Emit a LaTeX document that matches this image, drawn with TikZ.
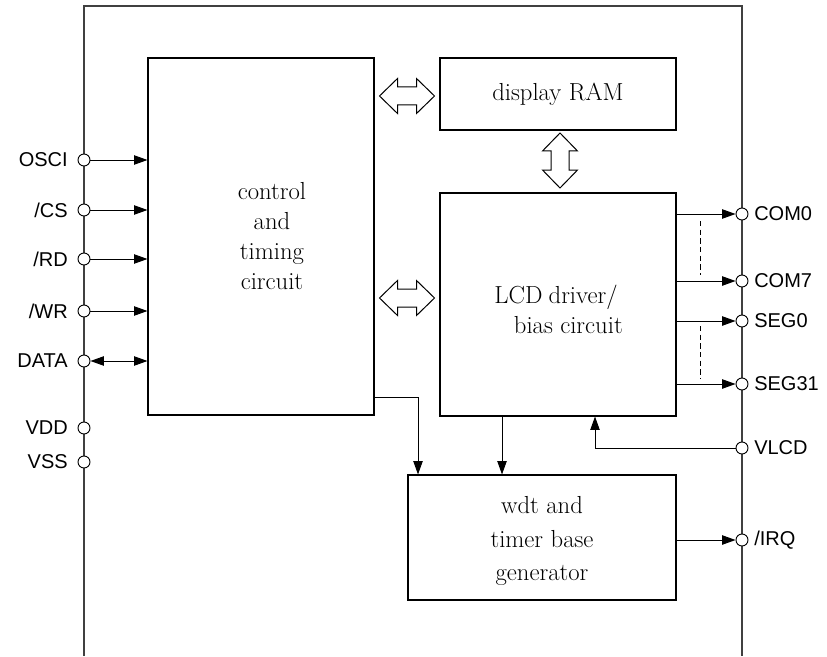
\documentclass[tikz,border=0pt]{standalone}
\usepackage{fontspec}
\newfontfamily\pinfont{Liberation Sans}
\usetikzlibrary{arrows.meta}
\begin{document}
\begin{tikzpicture}[x=0.75pt,y=-0.75pt,
  box/.style={draw,line width=0.8pt,rectangle,inner sep=0pt},
  btxt/.style={font=\fontsize{18.5}{22.5}\selectfont,align=center,inner sep=0pt},
  pin/.style={circle,draw,fill=white,line width=0.7pt,minimum size=9pt,inner sep=0pt},
  plabl/.style={font=\pinfont\fontsize{15}{16}\selectfont,inner sep=0pt,anchor=east},
  plabr/.style={font=\pinfont\fontsize{15}{16}\selectfont,inner sep=0pt,anchor=west},
  conn/.style={line width=0.75pt,-{Triangle[length=10pt,width=7pt]}},
  hollow/.style={line width=0.75pt,fill=white}
]
\useasboundingbox (0,0) rectangle (827,656);
% chip outline
\draw[line width=1.1pt,black!75] (84,656) -- (84,6) -- (742,6) -- (742,656);
% blocks
\node[box,minimum width=169.5pt,minimum height=267.75pt] (ctrl) at (261,236.5) {};
\node[btxt] (ctrltxt) at (272,236) {control\\and\\timing\\circuit};
\node[box,btxt,minimum width=177pt,minimum height=54pt] (ram) at (558,94) {display RAM};
\node[box,minimum width=177pt,minimum height=167.25pt] (lcd) at (558,304.5) {};
\node[btxt] (lcdtxt) at (556,309) {LCD\kern-1pt\ driver/\\\hspace*{1em}bias circuit};
\node[box,minimum width=201pt,minimum height=93.75pt] (wdt) at (542,537.5) {};
\node[btxt,font=\fontsize{18.5}{25}\selectfont] (wdttxt) at (542,541) {wdt and\\timer base\\generator};
% hollow double arrows
\foreach \cx/\cy/\r in {407/96/0,407/298/0,560/160.5/90}{
  \draw[hollow,rotate around={\r:(\cx,\cy)}] (\cx-27.5,\cy) -- (\cx-9.5,\cy-17.5) -- (\cx-9.5,\cy-9) -- (\cx+9.5,\cy-9) -- (\cx+9.5,\cy-17.5) -- (\cx+27.5,\cy) -- (\cx+9.5,\cy+17.5) -- (\cx+9.5,\cy+9) -- (\cx-9.5,\cy+9) -- (\cx-9.5,\cy+17.5) -- cycle;
}
% left pins
\foreach \n/\t/\y in {osci/OSCI/160,cs/{/CS}/210,rd/{/RD}/259,wr/{/WR}/311,data/DATA/361,vdd/VDD/428,vss/VSS/462}{
  \node[pin] (\n) at (84,\y) {};
  \node[plabl] (\n l) at (68,\y) {\t};
}
% right pins
\foreach \n/\t/\y in {com0/COM0/214,com7/COM7/281,seg0/SEG0/321,seg31/SEG31/384,vlcd/VLCD/448,irq/{/IRQ}/540}{
  \node[pin] (\n) at (742,\y) {};
  \node[plabr] (\n l) at (754,\y) {\t};
}
% inputs
\foreach \n in {osci,cs,rd,wr}{
  \draw[conn] (\n) -- (ctrl.west |- \n);
}
\draw[conn,{Triangle[length=10pt,width=7pt]}-{Triangle[length=10pt,width=7pt]}] (data) -- (ctrl.west |- data);
% outputs
\foreach \n in {com0,com7,seg0,seg31}{
  \draw[conn] (lcd.east |- \n) -- (\n);
}
\draw[conn] (wdt.east |- irq) -- (irq);
% dashed
\coordinate (d1) at (700,221);
\coordinate (d2) at (700,275);
\coordinate (d3) at (700,326);
\coordinate (d4) at (700,379);
\draw[line width=0.75pt,dash pattern=on 4pt off 2.5pt] (d1) -- (d2);
\draw[line width=0.75pt,dash pattern=on 4pt off 2.5pt] (d3) -- (d4);
% internal connections
\coordinate (c1) at (374,397);
\coordinate (c2) at (418,475);
\coordinate (c3) at (502,0);
\coordinate (c4) at (595,0);
\draw[conn] (ctrl.east |- c1) -| (wdt.north -| c2);
\draw[conn] (lcd.south -| c3) -- (wdt.north -| c3);
\draw[conn] (vlcd) -| (lcd.south -| c4);
\end{tikzpicture}
\end{document}
